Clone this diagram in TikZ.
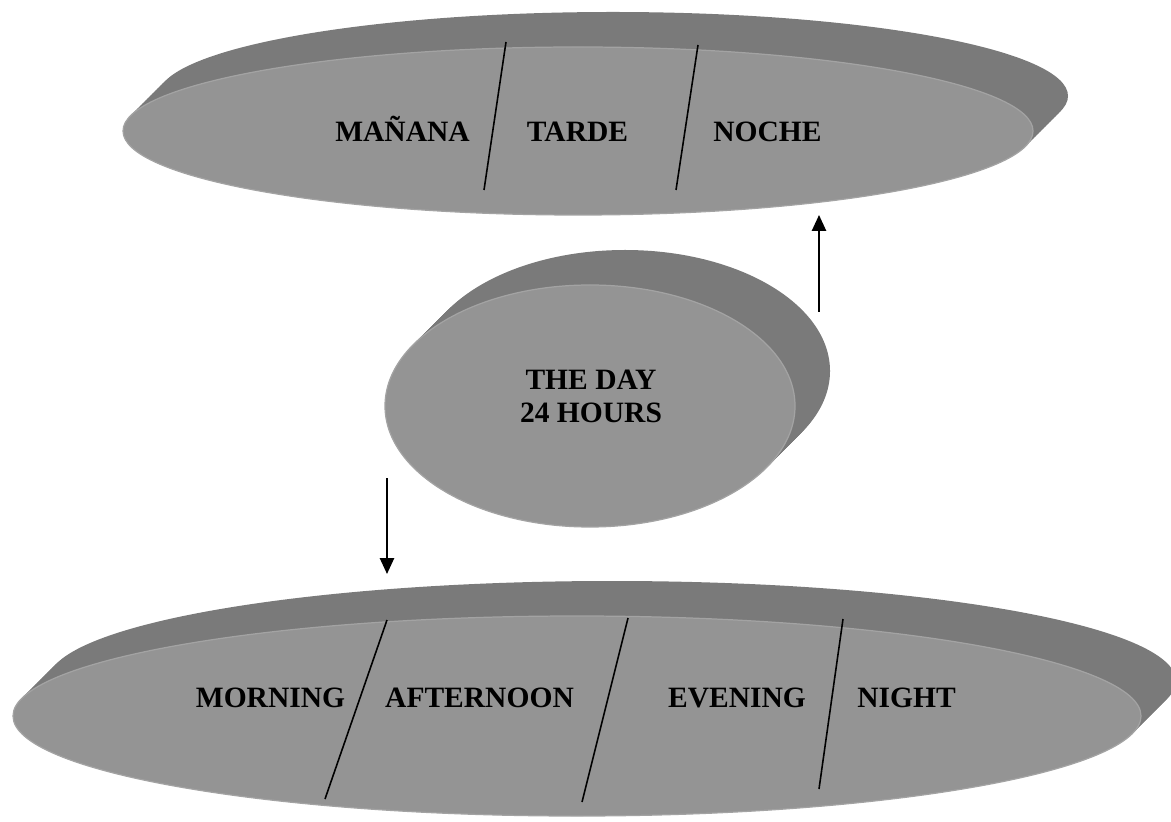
\documentclass[tikz,border=0pt]{standalone}
\usepackage{fontspec}
\setmainfont{Liberation Serif}
\usepackage{tikz}
\usetikzlibrary{arrows.meta, calc}

% extruded disk: centre, x radius, y radius
\newcommand{\daydisk}[3]{%
  \foreach \k in {14,...,1}
    \fill[diskside] ($(#1)+(\k*0.05,\k*0.05)$) ellipse[x radius=#2, y radius=#3];
  \fill[diskface] (#1) ellipse[x radius=#2, y radius=#3];
}

\begin{document}
\begin{tikzpicture}[>={Triangle[length=9pt, width=8pt]},
  diskside/.style={fill=black!52},
  diskface/.style={fill=black!42, draw=black!36, line width=0.7pt},
  label/.style={font=\fontsize{16.8}{18.8}\selectfont\bfseries, text=black,
                align=center, anchor=base, inner sep=0pt},
  divider/.style={black, line width=0.9pt},
  link/.style={->, black, line width=1.1pt}]

\useasboundingbox (0,0) rectangle (23.42,16.42);

\coordinate (Top) at (11.56, 13.80);
\coordinate (Mid) at (11.80,  8.30);
\coordinate (Bot) at (11.54,  2.10);

%-- the three disks
\daydisk{Top}{9.10}{1.68}
\daydisk{Mid}{4.10}{2.42}
\daydisk{Bot}{11.28}{2.00}

%-- dividers, top disk
\draw[divider] (10.12,15.58) -- (9.68,12.62);
\draw[divider] (13.96,15.52) -- (13.52,12.62);

%-- dividers, bottom disk
\draw[divider] (7.74,4.02)  -- (6.50,0.44);
\draw[divider] (12.56,4.06) -- (11.64,0.38);
\draw[divider] (16.86,4.04) -- (16.38,0.64);

%-- labels (placed on their baselines)
\node[label] (manana) at (8.05,13.58)  {MAÑANA};
\node[label] (tarde)  at (11.55,13.58) {TARDE};
\node[label] (noche)  at (15.35,13.58) {NOCHE};

% base of a two-line node = last line
\node[label] (day) at (11.82,7.96) {THE DAY\\24 HOURS};

\node[label] (morning)   at (5.41,2.28)  {MORNING};
\node[label] (afternoon) at (9.59,2.28)  {AFTERNOON};
\node[label] (evening)   at (14.74,2.28) {EVENING};
\node[label] (night)     at (18.13,2.28) {NIGHT};

%-- arrows
\coordinate (upS)   at (16.38,10.18);
\coordinate (upE)   at (16.38,12.12);
\coordinate (downS) at (7.74,6.86);
\coordinate (downE) at (7.74,4.94);

\draw[link] (upS) -- (upE);
\draw[link] (downS) -- (downE);

\end{tikzpicture}
\end{document}
